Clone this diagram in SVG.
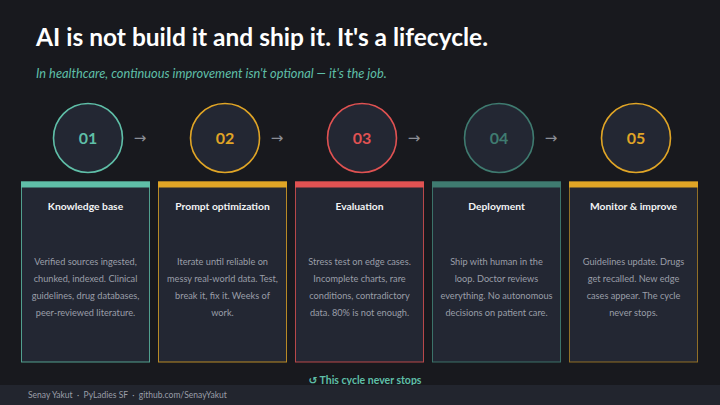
<svg xmlns="http://www.w3.org/2000/svg" width="720" height="405" viewBox="0 0 720 405">
<style>
.bg{fill:#18191e}
.card{fill:#232733;stroke-width:1}
.circ{fill:#232733;stroke-width:1.6}
.num{font-family:Lato,"Open Sans",sans-serif;font-weight:700;font-size:16px;text-anchor:middle}
.ct{font-family:Lato,"Open Sans",sans-serif;font-weight:700;font-size:10.3px;fill:#f2f3f5;text-anchor:middle}
.cb{font-family:Lato,"Open Sans",sans-serif;font-size:9.2px;fill:#9a9ea8;text-anchor:middle}
.arr{font-family:"DejaVu Sans",sans-serif;font-size:15px;fill:#8b8e96;text-anchor:middle}
</style>
<rect class="bg" x="0" y="0" width="720" height="405"/>
<text x="36" y="46" font-family="Lato,'Open Sans',sans-serif" font-weight="700" font-size="24.5" fill="#ffffff">AI is not build it and ship it. It's a lifecycle.</text>
<text x="36" y="78" font-family="Lato,'Open Sans',sans-serif" font-style="italic" font-size="12.8" fill="#5fbfa8">In healthcare, continuous improvement isn't optional — it's the job.</text>

<g id="connectors">
<text class="arr" x="140" y="143">→</text>
<text class="arr" x="277" y="143">→</text>
<text class="arr" x="414" y="143">→</text>
<text class="arr" x="551" y="143">→</text>
</g>

<g id="node1">
<circle class="circ" cx="88" cy="138" r="34.5" stroke="#5fbfa8"/>
<text class="num" x="88" y="144" fill="#5fbfa8">01</text>
<rect class="card" x="21.5" y="182" width="128" height="180" stroke="#5fbfa8" stroke-opacity="0.8"/>
<rect x="21" y="181.5" width="129" height="6" fill="#5fbfa8"/>
<text class="ct" x="85.5" y="210">Knowledge base</text>
<text class="cb" x="85.5" y="265">Verified sources ingested,</text>
<text class="cb" x="85.5" y="282">chunked, indexed. Clinical</text>
<text class="cb" x="85.5" y="299">guidelines, drug databases,</text>
<text class="cb" x="85.5" y="316">peer-reviewed literature.</text>
</g>

<g id="node2">
<circle class="circ" cx="225" cy="138" r="34.5" stroke="#e0a526"/>
<text class="num" x="225" y="144" fill="#e0a526">02</text>
<rect class="card" x="158.5" y="182" width="128" height="180" stroke="#e0a526" stroke-opacity="0.8"/>
<rect x="158" y="181.5" width="129" height="6" fill="#e0a526"/>
<text class="ct" x="222.5" y="210">Prompt optimization</text>
<text class="cb" x="222.5" y="265">Iterate until reliable on</text>
<text class="cb" x="222.5" y="282">messy real-world data. Test,</text>
<text class="cb" x="222.5" y="299">break it, fix it. Weeks of</text>
<text class="cb" x="222.5" y="316">work.</text>
</g>

<g id="node3">
<circle class="circ" cx="362" cy="138" r="34.5" stroke="#e05252"/>
<text class="num" x="362" y="144" fill="#e05252">03</text>
<rect class="card" x="295.5" y="182" width="128" height="180" stroke="#e05252" stroke-opacity="0.8"/>
<rect x="295" y="181.5" width="129" height="6" fill="#e05252"/>
<text class="ct" x="359.5" y="210">Evaluation</text>
<text class="cb" x="359.5" y="265">Stress test on edge cases.</text>
<text class="cb" x="359.5" y="282">Incomplete charts, rare</text>
<text class="cb" x="359.5" y="299">conditions, contradictory</text>
<text class="cb" x="359.5" y="316">data. 80% is not enough.</text>
</g>

<g id="node4">
<circle class="circ" cx="499" cy="138" r="34.5" stroke="#3f7b70"/>
<text class="num" x="499" y="144" fill="#3f7b70">04</text>
<rect class="card" x="432.5" y="182" width="128" height="180" stroke="#3f7b70" stroke-opacity="0.9"/>
<rect x="432" y="181.5" width="129" height="6" fill="#3f7b70"/>
<text class="ct" x="496.5" y="210">Deployment</text>
<text class="cb" x="496.5" y="265">Ship with human in the</text>
<text class="cb" x="496.5" y="282">loop. Doctor reviews</text>
<text class="cb" x="496.5" y="299">everything. No autonomous</text>
<text class="cb" x="496.5" y="316">decisions on patient care.</text>
</g>

<g id="node5">
<circle class="circ" cx="636" cy="138" r="34.5" stroke="#e0a526"/>
<text class="num" x="636" y="144" fill="#e0a526">05</text>
<rect class="card" x="569.5" y="182" width="128" height="180" stroke="#e0a526" stroke-opacity="0.6"/>
<rect x="569" y="181.5" width="129" height="6" fill="#e0a526"/>
<text class="ct" x="633.5" y="210">Monitor &amp; improve</text>
<text class="cb" x="633.5" y="265">Guidelines update. Drugs</text>
<text class="cb" x="633.5" y="282">get recalled. New edge</text>
<text class="cb" x="633.5" y="299">cases appear. The cycle</text>
<text class="cb" x="633.5" y="316">never stops.</text>
</g>

<text x="365" y="384" font-family="Lato,'Open Sans',sans-serif" font-weight="700" font-size="10.5" fill="#5fbfa8" text-anchor="middle"><tspan font-family="'DejaVu Sans',sans-serif">↺</tspan>  This cycle never stops</text>
<rect x="0" y="385" width="720" height="20" fill="#22252e"/>
<text x="28" y="398" font-family="Lato,'Open Sans',sans-serif" font-size="8.5" fill="#9a9ea8" xml:space="preserve">Senay Yakut  ·  PyLadies SF  ·  github.com/SenayYakut</text>
</svg>
